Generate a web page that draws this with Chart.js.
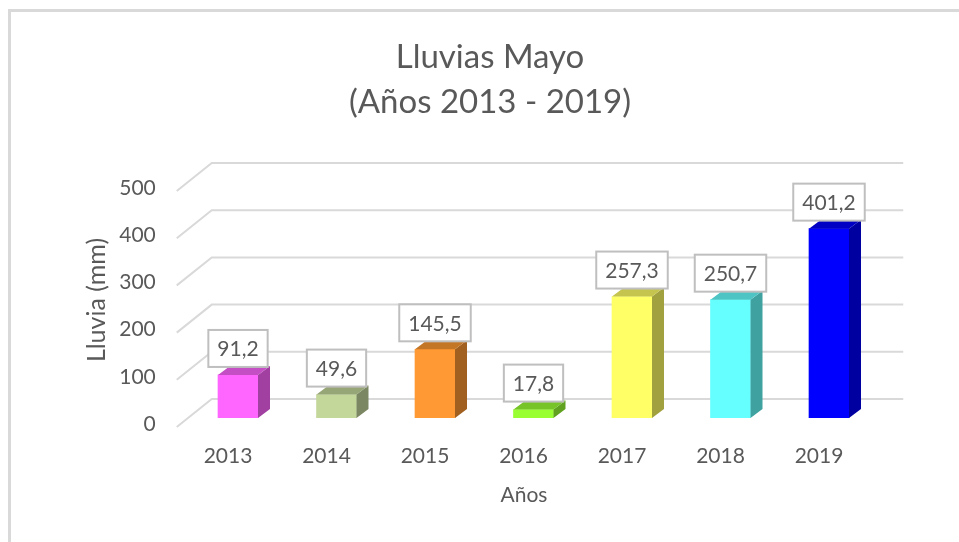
<!DOCTYPE html>
<html>
<head>
<meta charset="utf-8">
<title>Lluvias Mayo</title>
<script src="https://cdn.jsdelivr.net/npm/chart.js@4"></script>
<style>
    body { margin: 0; background: #ffffff; }
    #chart { display: block; }
</style>
</head>
<body>
<canvas id="chart" width="959" height="542"></canvas>
<script>
// Chart data
const years = ["2013", "2014", "2015", "2016", "2017", "2018", "2019"];
const rainfall = [91.2, 49.6, 145.5, 17.8, 257.3, 250.7, 401.2];
const yTicks = [0, 100, 200, 300, 400, 500];
const barColors = ["#FF66FF", "#C4D79B", "#FF9933", "#99FF33", "#FFFF66", "#66FFFF", "#0000FF"];

const titleLines = ["Lluvias Mayo", "(Años 2013 - 2019)"];
const xTitle = "Años";
const yTitle = "Lluvia (mm)";

const textColor = "#595959";
const gridColor = "#d9d9d9";
const fontFamily = "Lato, 'Open Sans', sans-serif";

// 3D depth of the bars and of the floor/back wall
const depthX = 12, depthY = -9;

// Darken a hex colour by a factor
function shade(hex, f) {
    const n = parseInt(hex.slice(1), 16);
    const r = Math.round(((n >> 16) & 255) * f);
    const g = Math.round(((n >> 8) & 255) * f);
    const b = Math.round((n & 255) * f);
    return `rgb(${r},${g},${b})`;
}

function formatValue(v) {
    return v.toFixed(1).replace(".", ",");
}

// Frame, back wall grid lines and floor diagonals
const backdropPlugin = {
    id: "backdrop",
    beforeDraw(chart) {
        const ctx = chart.ctx;
        ctx.save();
        ctx.fillStyle = gridColor;
        ctx.fillRect(8, 9, chart.width, 3);
        ctx.fillRect(8, 9, 3, chart.height);
        ctx.restore();
    },
    beforeDatasetsDraw(chart) {
        const ctx = chart.ctx;
        const { left, right } = chart.chartArea;
        const yScale = chart.scales.y;
        ctx.save();
        ctx.strokeStyle = gridColor;
        ctx.lineWidth = 2;
        yTicks.forEach((v) => {
            const y = yScale.getPixelForValue(v);
            ctx.beginPath();
            ctx.moveTo(left - 12, y + 9);
            ctx.lineTo(left + 23, y - 19);
            ctx.lineTo(right + 25, y - 19);
            ctx.stroke();
        });
        ctx.restore();
    },
    afterDatasetsDraw(chart) {
        const ctx = chart.ctx;
        const meta = chart.getDatasetMeta(0);
        ctx.save();
        meta.data.forEach((bar, i) => {
            const w = bar.width;
            const xl = bar.x - w / 2;
            const xr = bar.x + w / 2;
            const top = bar.y;
            const base = bar.base;

            // Side face
            ctx.fillStyle = shade(barColors[i], 0.63);
            ctx.beginPath();
            ctx.moveTo(xr, top);
            ctx.lineTo(xr + depthX, top + depthY);
            ctx.lineTo(xr + depthX, base + depthY);
            ctx.lineTo(xr, base);
            ctx.closePath();
            ctx.fill();

            // Top face
            ctx.fillStyle = shade(barColors[i], 0.77);
            ctx.beginPath();
            ctx.moveTo(xl, top);
            ctx.lineTo(xr, top);
            ctx.lineTo(xr + depthX, top + depthY);
            ctx.lineTo(xl + depthX, top + depthY);
            ctx.closePath();
            ctx.fill();

            // Value label in a box
            const label = formatValue(rainfall[i]);
            ctx.font = `21px ${fontFamily}`;
            const tw = ctx.measureText(label).width;
            const bw = tw + 18, bh = 37;
            const bx = bar.x - bw / 2;
            const by = top + depthY + 1 - bh;
            ctx.fillStyle = "#ffffff";
            ctx.fillRect(bx, by, bw, bh);
            ctx.strokeStyle = "#bfbfbf";
            ctx.lineWidth = 2;
            ctx.strokeRect(bx, by, bw, bh);
            ctx.fillStyle = textColor;
            ctx.textAlign = "center";
            ctx.textBaseline = "middle";
            ctx.fillText(label, bar.x, by + bh / 2 + 1);
        });
        ctx.restore();
    },
    afterDraw(chart) {
        const ctx = chart.ctx;
        ctx.save();
        ctx.fillStyle = textColor;
        ctx.textAlign = "center";
        ctx.textBaseline = "middle";
        ctx.font = `33px ${fontFamily}`;
        ctx.fillText(titleLines[0], 490, 57);
        ctx.fillText(titleLines[1], 490, 102);
        ctx.font = `21px ${fontFamily}`;
        ctx.fillText(xTitle, 524, 495);
        ctx.restore();
    }
};

const ctx = document.getElementById("chart").getContext("2d");
new Chart(ctx, {
    type: "bar",
    data: {
        labels: years,
        datasets: [{
            data: rainfall,
            backgroundColor: barColors,
            borderWidth: 0,
            barThickness: 40,
        }],
    },
    options: {
        responsive: false,
        animation: false,
        events: [],
        layout: {
            padding: { left: 80, right: 80.75, top: 182, bottom: 0 },
        },
        plugins: {
            legend: { display: false },
            title: { display: false },
            tooltip: { enabled: false },
        },
        scales: {
            x: {
                grid: { display: false, drawTicks: false },
                border: { display: false },
                ticks: {
                    color: textColor,
                    font: { family: fontFamily, size: 21 },
                    padding: 26,
                    labelOffset: -10,
                    maxRotation: 0,
                },
                afterFit: (scale) => { scale.height = 124; },
            },
            y: {
                min: 0,
                max: 500,
                grid: { display: false, drawTicks: false },
                border: { display: false },
                ticks: {
                    color: textColor,
                    font: { family: fontFamily, size: 21 },
                    padding: 33,
                    labelOffset: 6,
                },
                afterBuildTicks: (scale) => {
                    scale.ticks = yTicks.map((v) => ({ value: v }));
                },
                title: {
                    display: true,
                    text: yTitle,
                    color: textColor,
                    font: { family: fontFamily, size: 25 },
                    padding: { top: 2, bottom: 0 },
                },
                afterFit: (scale) => { scale.width = 108.75; },
            },
        },
    },
    plugins: [backdropPlugin],
});
</script>
</body>
</html>
